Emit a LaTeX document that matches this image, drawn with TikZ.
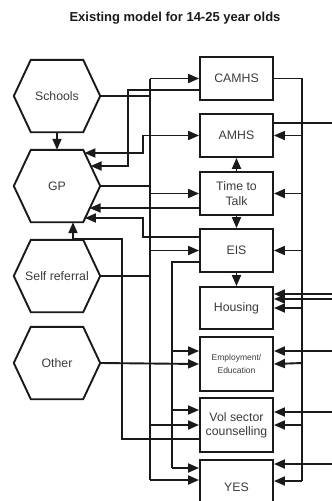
\documentclass[tikz,border=0pt]{standalone}
\usepackage{fontspec}
\setmainfont{Liberation Sans}
\usetikzlibrary{arrows.meta,calc}
\definecolor{lncol}{HTML}{1A1A1A}
\definecolor{txtcol}{HTML}{3C3C3C}
\tikzset{
  ln/.style={line width=1.9pt, draw=lncol},
  arr/.style={ln, -{Triangle[length=11pt,width=9pt]}},
  both/.style={ln, {Triangle[length=11pt,width=9pt]}-{Triangle[length=11pt,width=9pt]}},
  box/.style={ln, draw, fill=white, minimum width=73pt, minimum height=43pt, inner sep=1pt, align=center,
    font=\fontsize{12.3}{15}\selectfont, text=txtcol},
  hexa/.style={minimum width=86pt, minimum height=72pt, inner sep=0pt, align=center,
    font=\fontsize{12.3}{15}\selectfont, text=txtcol},
}
\newcommand\hexline[1]{\draw[ln, line join=miter] (#1.west) -- ([xshift=17pt]#1.north west) -- ([xshift=-17pt]#1.north east) -- (#1.east) -- ([xshift=-17pt]#1.south east) -- ([xshift=17pt]#1.south west) -- cycle;}
\begin{document}
\begin{tikzpicture}[x=1pt,y=-1pt]
\useasboundingbox (0,0) rectangle (332,501);
\clip (0,0) rectangle (332,501);
\fill[white] (0,0) rectangle (332,501);
% title
\node[font=\bfseries\fontsize{13}{15}\selectfont, text=lncol] (title) at (175,18) {Existing model for 14-25 year olds};
% hexagons
\node[hexa] (schools) at (57,96) {Schools};
\node[hexa] (gp) at (57,186) {GP};
\node[hexa] (self) at (57,276) {Self referral};
\node[hexa] (other) at (57,363) {Other};
\hexline{schools}\hexline{gp}\hexline{self}\hexline{other}
% boxes
\node[box] (camhs) at (236.5,78.5) {CAMHS};
\node[box] (amhs) at (236.5,135.5) {AMHS};
\node[box] (talk) at (236.5,193.5) {Time to\\Talk};
\node[box] (eis) at (236.5,250.5) {EIS};
\node[box, minimum height=42pt] (housing) at (236.5,308) {Housing};
\node[box, minimum height=54pt, font=\fontsize{8.5}{13}\selectfont] (emp) at (236.5,364) {Employment/\\Education};
\node[box, minimum height=54pt, font=\fontsize{12.3}{14}\selectfont] (vol) at (236.5,425) {Vol sector\\counselling};
\node[box, minimum height=54pt] (yes) at (236.5,487) {YES};
% points on GP edges and on the right border
\coordinate (gpA) at (84.4,153);
\coordinate (gpB) at (90.6,166);
\coordinate (gpC) at (89.6,208);
\coordinate (gpD) at (84.9,218);
\coordinate (rAmhs) at (332,123);
\coordinate (rHouA) at (332,294);
\coordinate (rHouB) at (332,299);
\coordinate (rEmp) at (332,351);
\coordinate (rVol) at (332,412);
\coordinate (rYes) at (332,464);
% vertical arrows between boxes
\draw[arr] (schools.south) -- (gp.north);
\draw[arr] (talk.north) -- (amhs.south);
\draw[arr] (talk.south) -- (eis.north);
\draw[arr] (eis.south) -- (housing.north);
% Vol sector -> GP
\draw[arr] ([yshift=-14pt]vol.west) -- (122,439) -- (122,239) -- (73,239) -- ([xshift=16pt]gp.south);
% left bus x=150
\draw[ln] (schools.east) -- (150,96);
\draw[ln] (gp.east) -- (150,186);
\draw[ln] (self.east) -- (150,276);
\draw[ln] (150,78.5) -- (150,480);
\draw[arr] (150,78.5) -- (camhs.west);
\draw[arr] (150,193.5) -- (talk.west);
\draw[arr] (150,250.5) -- (eis.west);
\draw[arr] (150,425) -- (vol.west);
\draw[arr] (150,480) -- ([yshift=7pt]yes.west);
% Other -> Employment
\draw[arr] (other.east) -- (emp.west);
% CAMHS -> GP
\draw[arr] ([yshift=-11.5pt]camhs.west) -- (128,90) -- (128,166) -- (gpB);
% AMHS <-> GP
\draw[both] (gpA) -- (143,153) -- (143,135.5) -- (amhs.west);
% Talk -> GP
\draw[arr] ([yshift=-14.5pt]talk.west) -- (gpC);
% EIS -> GP
\draw[arr] ([yshift=13.5pt]eis.west) -- (143,237) -- (143,218) -- (gpD);
% EIS -> bus x=172
\draw[ln] ([yshift=-11.5pt]eis.west) -- (172,262) -- (172,468);
\draw[arr] (172,351) -- ([yshift=13pt]emp.west);
\draw[arr] (172,410) -- ([yshift=15pt]vol.west);
\draw[arr] (172,468) -- ([yshift=19pt]yes.west);
% right bus x=302 from CAMHS
\draw[ln] (camhs.east) -- (302,78.5) -- (302,481);
\draw[arr] (302,135.5) -- (amhs.east);
\draw[arr] (302,193.5) -- (talk.east);
\draw[arr] (302,250.5) -- (eis.east);
\draw[arr] (302,308) -- (housing.east);
\draw[arr] (302,363) -- (emp.east);
\draw[arr] (302,425) -- (vol.east);
\draw[arr] (302,481) -- ([yshift=6pt]yes.east);
% lines to/from the right border
\draw[ln] ([yshift=12.5pt]amhs.east) -- (rAmhs);
\draw[arr] (rHouA) -- ([yshift=14pt]housing.east);
\draw[arr] (rHouB) -- ([yshift=9pt]housing.east);
\draw[arr] (rEmp) -- ([yshift=13pt]emp.east);
\draw[arr] (rVol) -- ([yshift=13pt]vol.east);
\draw[arr] (rYes) -- ([yshift=23pt]yes.east);
\end{tikzpicture}
\end{document}
